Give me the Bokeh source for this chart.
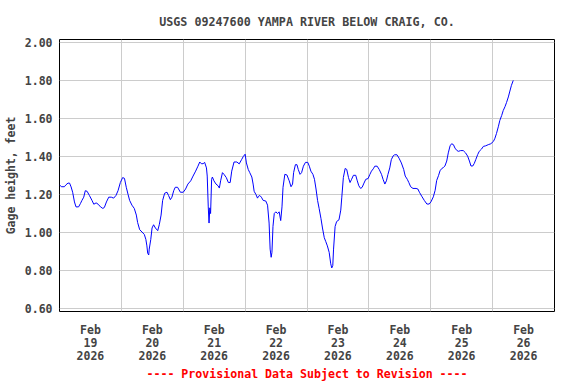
from bokeh.plotting import figure
from bokeh.models import FixedTicker, Range1d, CustomJSTickFormatter
from bokeh.embed import file_html
from bokeh.resources import INLINE

title = "USGS 09247600 YAMPA RIVER BELOW CRAIG, CO."
y_label = "Gage height, feet"
x_note = "---- Provisional Data Subject to Revision ----"

# hours since 2026-02-19 00:00 (local)
hours = [0, 0.7, 1.9, 2.5, 3.3, 3.9, 4.5, 5.1, 5.8, 6.4, 7.4, 8.1, 8.7, 9.4, 10.0, 10.7, 11.6, 12.6,
         13.3, 14.2, 15.0, 15.9, 16.8, 17.4, 18.2, 19.1, 20.1, 21.0, 21.9, 22.7, 23.6, 24.5, 25.2, 25.9,
         26.6, 27.2, 28.1, 29.0, 29.8, 30.3, 31.1, 32.0, 32.9, 33.5, 33.9, 34.2, 34.6, 34.8, 35.4, 35.9,
         36.5, 37.2, 38.1, 38.7, 39.4, 40.0, 40.8, 41.7, 42.3, 43.0, 43.6, 44.3, 44.9, 45.8, 46.9,
         48.0, 48.9, 49.8, 50.9, 51.8, 52.8, 53.7, 54.4, 55.0, 55.7, 56.3, 57.0, 57.3, 57.7, 58.0, 58.3,
         58.6, 59.0, 59.3, 59.9, 60.7, 61.5, 62.0, 62.5, 63.2, 63.8, 64.7, 65.5, 66.2, 66.8, 67.7, 68.8,
         69.7, 70.6, 71.3, 72.0, 72.5, 73.2, 73.8, 74.6, 75.1, 75.5, 76.2, 76.8, 77.2, 77.7, 78.3, 79.0,
         80.0, 80.7, 81.3, 81.7, 82.1, 82.4, 82.8, 83.3, 83.9, 84.6, 85.2, 85.8, 86.3, 86.7, 87.4, 88.2,
         89.1, 89.8, 90.4, 90.8, 91.5, 92.1, 92.6, 93.3, 93.9, 94.6,
         95.4, 96.3, 96.9, 97.5, 98.3, 98.9, 99.5, 100.1, 100.7, 101.4, 102.0, 102.7, 103.3, 103.9,
         104.6, 105.2, 105.6, 106.0, 106.3, 106.9, 107.5, 108.4, 109.1, 109.5, 110.1, 110.8, 111.4,
         112.1, 112.7, 113.3, 114.0, 114.9, 115.5, 116.1, 116.8, 117.4, 118.1, 118.8, 119.7, 120.4,
         121.0, 121.7, 122.3, 123.2, 124.0, 124.9, 125.5, 126.2, 126.8, 127.4, 128.1, 128.7, 129.4,
         130.0, 130.9, 131.7, 132.6, 133.5, 134.1, 134.9, 135.5, 136.2, 137.1, 138.3, 139.0, 139.6,
         140.5, 141.5,
         142.5, 143.4, 144.1, 145.0, 145.7, 146.3, 147.0, 147.6, 148.3, 148.9, 149.5, 150.2, 150.8,
         151.5, 152.1, 152.8, 153.4, 154.1, 154.7, 155.6, 156.6, 157.5, 158.3, 159.0, 159.6, 160.3,
         160.9, 161.5, 162.2, 162.8, 163.7, 164.4, 165.3, 166.3, 167.3, 168.3, 168.9, 169.5, 170.2,
         170.8, 171.5, 172.1, 172.8, 173.4, 174.1, 174.7, 175.3, 176.0]

gage_ft = [1.251, 1.241, 1.241, 1.251, 1.26, 1.26, 1.24, 1.212, 1.161, 1.135, 1.135, 1.152, 1.169, 1.186,
           1.22, 1.217, 1.195, 1.169, 1.149, 1.156, 1.149, 1.135, 1.127, 1.132, 1.161, 1.186, 1.186,
           1.181, 1.195, 1.22, 1.263, 1.289, 1.285, 1.238, 1.20, 1.169, 1.144, 1.127, 1.092, 1.053,
           1.015, 1.003, 0.99, 0.964, 0.93, 0.892, 0.882, 0.913, 0.964, 1.024, 1.041, 1.024, 1.01,
           1.041, 1.092, 1.169, 1.207, 1.212, 1.195, 1.173, 1.186, 1.22, 1.238, 1.238, 1.212,
           1.212, 1.229, 1.255, 1.272, 1.297, 1.323, 1.349, 1.371, 1.362, 1.362, 1.369, 1.34, 1.297,
           1.135, 1.05, 1.13, 1.10, 1.28, 1.292, 1.272, 1.255, 1.246, 1.234, 1.272, 1.315, 1.306,
           1.289, 1.263, 1.263, 1.323, 1.371, 1.371, 1.361, 1.383, 1.40, 1.412, 1.366, 1.332, 1.315,
           1.292, 1.255, 1.217, 1.20, 1.181, 1.191, 1.195, 1.186, 1.169, 1.166, 1.144, 1.05, 0.913,
           0.87, 0.896, 1.032, 1.10, 1.109, 1.10, 1.109, 1.063, 1.135, 1.238, 1.306, 1.303, 1.272,
           1.241, 1.255, 1.315, 1.357, 1.357, 1.332, 1.306, 1.315, 1.349,
           1.369, 1.369, 1.349, 1.323, 1.306, 1.28, 1.229, 1.169, 1.127, 1.075, 1.024, 0.973, 0.952,
           0.93, 0.896, 0.836, 0.814, 0.827, 0.913, 1.032, 1.058, 1.067, 1.118, 1.186, 1.289, 1.337,
           1.332, 1.289, 1.263, 1.28, 1.301, 1.301, 1.272, 1.246, 1.232, 1.238, 1.26, 1.28, 1.284,
           1.306, 1.323, 1.335, 1.349, 1.349, 1.332, 1.306, 1.28, 1.255, 1.272, 1.306, 1.34, 1.383,
           1.403, 1.409, 1.409, 1.391, 1.366, 1.332, 1.297, 1.28, 1.263, 1.241, 1.232, 1.232, 1.229,
           1.212, 1.191, 1.169,
           1.15, 1.15, 1.162, 1.188, 1.222, 1.274, 1.299, 1.325, 1.337, 1.342, 1.35, 1.376, 1.419,
           1.456, 1.467, 1.462, 1.444, 1.432, 1.427, 1.431, 1.431, 1.419, 1.402, 1.376, 1.35, 1.35,
           1.364, 1.385, 1.41, 1.427, 1.439, 1.453, 1.456, 1.462, 1.467, 1.479, 1.496, 1.521, 1.556,
           1.59, 1.615, 1.641, 1.662, 1.684, 1.713, 1.744, 1.774, 1.80]

day_labels = ["Feb\n19\n2026", "Feb\n20\n2026", "Feb\n21\n2026", "Feb\n22\n2026",
              "Feb\n23\n2026", "Feb\n24\n2026", "Feb\n25\n2026", "Feb\n26\n2026"]
y_ticks = [0.6, 0.8, 1.0, 1.2, 1.4, 1.6, 1.8, 2.0]

n_days = len(day_labels)
label_pos = [24 * i + 12 for i in range(n_days)]
grid_pos = [24 * i for i in range(1, n_days)]

FONT = "DejaVu Sans Mono"

p = figure(width=576, height=384, output_backend="svg", toolbar_location=None,
           x_range=Range1d(0, 24 * n_days), y_range=Range1d(0.585, 2.015),
           min_border_left=59, min_border_right=22, min_border_top=39, min_border_bottom=68)

p.title.text = title
p.title.align = "center"
p.title.text_font = FONT
p.title.text_font_size = "11.7px"
p.title.text_font_style = "bold"
p.title.standoff = 22

p.background_fill_color = "white"
p.border_fill_color = "white"
p.outline_line_color = "black"
p.outline_line_width = 1

p.line(hours, gage_ft, line_color="#0000ff", line_width=1)

# x axis
p.xaxis.ticker = FixedTicker(ticks=label_pos)
p.xaxis.major_label_overrides = {pos: lab for pos, lab in zip(label_pos, day_labels)}
p.xaxis.axis_line_color = None
p.xaxis.major_tick_line_color = None
p.xaxis.minor_tick_line_color = None
p.xaxis.major_tick_out = 0
p.xaxis.major_tick_in = 0
p.xaxis.minor_tick_out = 0
p.xaxis.major_label_text_font = FONT
p.xaxis.major_label_text_font_size = "11.5px"
p.xaxis.major_label_text_font_style = "bold"
p.xaxis.major_label_text_line_height = 0.95
p.xaxis.major_label_standoff = 11
p.xaxis.axis_label = x_note
p.xaxis.axis_label_text_color = "#ff0000"
p.xaxis.axis_label_text_font = FONT
p.xaxis.axis_label_text_font_size = "11.6px"
p.xaxis.axis_label_text_font_style = "bold"
p.xaxis.axis_label_standoff = 1

# y axis
p.yaxis.ticker = FixedTicker(ticks=y_ticks)
p.yaxis.formatter = CustomJSTickFormatter(code="return tick.toFixed(2);")
p.yaxis.axis_line_color = None
p.yaxis.major_tick_line_color = None
p.yaxis.minor_tick_line_color = None
p.yaxis.major_tick_out = 0
p.yaxis.major_tick_in = 0
p.yaxis.minor_tick_out = 0
p.yaxis.major_label_text_font = FONT
p.yaxis.major_label_text_font_size = "11.5px"
p.yaxis.major_label_text_font_style = "bold"
p.yaxis.major_label_standoff = 7
p.yaxis.axis_label = y_label
p.yaxis.axis_label_text_font = FONT
p.yaxis.axis_label_text_font_size = "11.5px"
p.yaxis.axis_label_text_font_style = "bold"
p.yaxis.axis_label_standoff = 4

# grids
p.xgrid.ticker = FixedTicker(ticks=grid_pos)
p.ygrid.ticker = FixedTicker(ticks=y_ticks)
p.xgrid.grid_line_color = "#cccccc"
p.ygrid.grid_line_color = "#cccccc"
p.xgrid.grid_line_width = 1
p.ygrid.grid_line_width = 1

open("out.html", "w").write(file_html(p, INLINE))
